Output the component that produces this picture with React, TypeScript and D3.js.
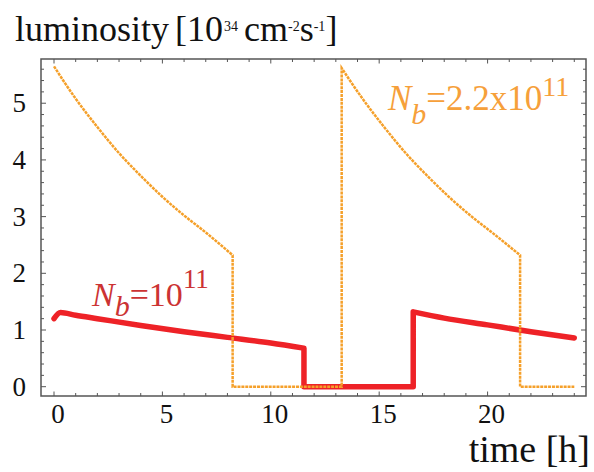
import React from "react";
import * as d3 from "d3";

// Orange series: N_b = 2.2x10^11  (time [h], luminosity)
const orangeT = [0, 1, 2, 3, 4, 5, 6, 7, 8.24, 8.24, 13.27, 13.27, 14.27, 15.27, 16.27, 17.27, 18.27, 19.27, 20.27, 21.5, 21.5, 24];
const orangeL = [5.65, 5.08, 4.58, 4.12, 3.72, 3.35, 3.02, 2.72, 2.32, 0, 0, 5.62, 5.06, 4.56, 4.1, 3.7, 3.33, 3.0, 2.7, 2.32, 0, 0];

// Red series: N_b = 10^11
const redT = [0, 0.3, 1, 2, 4, 6, 8, 10, 11.53, 11.53, 16.57, 16.57, 18, 20, 22, 24];
const redL = [1.2, 1.31, 1.26, 1.2, 1.08, 0.97, 0.87, 0.77, 0.68, 0, 0, 1.32, 1.21, 1.09, 0.97, 0.86];

const xMajor = [0, 5, 10, 15, 20];
const yMajor = [0, 1, 2, 3, 4, 5];

const FONT = "'Liberation Serif', 'Times New Roman', serif";

function buildPath(ts: number[], vs: number[], x: d3.ScaleLinear<number, number>, y: d3.ScaleLinear<number, number>) {
  const runs: [number, number][][] = [];
  let cur: [number, number][] = [];
  ts.forEach((t, i) => {
    if (i > 0 && t === ts[i - 1]) {
      runs.push(cur);
      cur = [];
    }
    cur.push([t, vs[i]]);
  });
  runs.push(cur);
  const gen = d3.line<[number, number]>().x(d => x(d[0])).y(d => y(d[1])).curve(d3.curveMonotoneX);
  return runs
    .map((r, k) => {
      const s = gen(r) || "";
      return k === 0 ? s : "L" + s.slice(1);
    })
    .join("");
}

export default function App() {
  const W = 594, H = 472;
  const L = 41, R = 586, T = 59, B = 396;
  const x = d3.scaleLinear().domain([-0.6, 24.54]).range([L, R]);
  const y = d3.scaleLinear().domain([-0.164, 5.78]).range([B, T]);

  const xMinor = d3.range(0, 25, 1);
  const yMinor = d3.range(0, 5.8, 0.2).map(v => +v.toFixed(2));
  const frame = "#555";

  return (
    <svg width={W} height={H} style={{ position: "absolute", left: 0, top: 0, background: "#fff" }} fontFamily={FONT}>
      {/* title */}
      <text x={15} y={41} fontSize={36} fill="#111">
        luminosity<tspan dx={6}>[10</tspan>
        <tspan dy={-10} dx={1} fontSize={14}>34</tspan>
        <tspan dy={10} dx={6}>cm</tspan>
        <tspan dy={-10} fontSize={14}>-2</tspan>
        <tspan dy={10}>s</tspan>
        <tspan dy={-10} fontSize={14}>-1</tspan>
        <tspan dy={10}>]</tspan>
      </text>

      {/* data */}
      <path d={buildPath(redT, redL, x, y)} fill="none" stroke="#EE2227" strokeWidth={5.5} strokeLinejoin="round" strokeLinecap="round" />
      <path d={buildPath(orangeT, orangeL, x, y)} fill="none" stroke="#F5A02A" strokeWidth={2.5} strokeDasharray="3 0.9" />

      {/* frame */}
      <rect x={L} y={T} width={R - L} height={B - T} fill="none" stroke={frame} strokeWidth={1.5} />

      {/* x ticks */}
      {xMinor.map(t => {
        const len = t % 5 === 0 ? 4.5 : 3;
        return (
          <g key={"xt" + t} stroke={frame} strokeWidth={1}>
            <line x1={x(t)} x2={x(t)} y1={B} y2={B - len} />
            <line x1={x(t)} x2={x(t)} y1={T} y2={T + len} />
          </g>
        );
      })}
      {/* y ticks */}
      {yMinor.map(v => {
        const major = Math.abs(v - Math.round(v)) < 1e-6;
        const len = major ? 5 : 3;
        return (
          <g key={"yt" + v} stroke={frame} strokeWidth={1}>
            <line x1={L} x2={L + len} y1={y(v)} y2={y(v)} />
            <line x1={R} x2={R - len} y1={y(v)} y2={y(v)} />
          </g>
        );
      })}

      {xMajor.map(t => (
        <text key={"xl" + t} x={x(t) + 4} y={423} fontSize={27} textAnchor="middle" fill="#111">{t}</text>
      ))}
      {yMajor.map(v => (
        <text key={"yl" + v} x={26} y={y(v) + 9} fontSize={27} textAnchor="end" fill="#111">{v}</text>
      ))}

      <text x={590} y={462} fontSize={38} textAnchor="end" fill="#111">time [h]</text>

      {/* series labels */}
      <text x={92} y={306} fontSize={34} fill="#CC3333">
        <tspan fontStyle="italic">N</tspan>
        <tspan dy={10} fontStyle="italic" fontSize={30}>b</tspan>
        <tspan dy={-10}>=10</tspan>
        <tspan dy={-18} fontSize={27}>11</tspan>
      </text>
      <text x={388} y={110} fontSize={35} fill="#F6A03A">
        <tspan fontStyle="italic">N</tspan>
        <tspan dy={14} fontStyle="italic" fontSize={30}>b</tspan>
        <tspan dy={-14}>=2.2x10</tspan>
        <tspan dy={-14} fontSize={28}>11</tspan>
      </text>
    </svg>
  );
}
